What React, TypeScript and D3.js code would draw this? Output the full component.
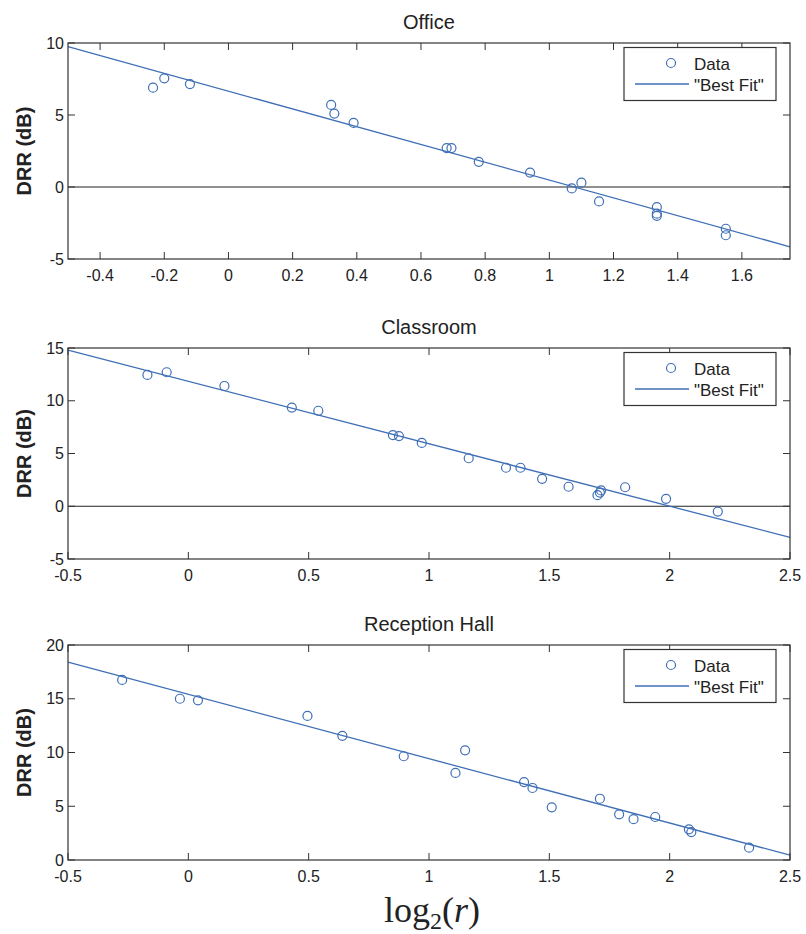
import React from 'react';
import * as d3 from 'd3';

// Office
const officeX = [-0.235, -0.2, -0.12, 0.32, 0.33, 0.39, 0.68, 0.695, 0.78, 0.94, 1.07, 1.1, 1.155, 1.335, 1.335, 1.335, 1.55, 1.55];
const officeY = [6.9, 7.55, 7.15, 5.7, 5.1, 4.45, 2.7, 2.7, 1.75, 1.0, -0.1, 0.3, -1.0, -1.4, -1.85, -2.0, -2.9, -3.35];
const officeFitX = [-0.5, 1.75];
const officeFitY = [9.74, -4.15];
const officeXTicks = [-0.4, -0.2, 0, 0.2, 0.4, 0.6, 0.8, 1, 1.2, 1.4, 1.6];
const officeXTickLabels = ['-0.4', '-0.2', '0', '0.2', '0.4', '0.6', '0.8', '1', '1.2', '1.4', '1.6'];
const officeYTicks = [-5, 0, 5, 10];
const officeYTickLabels = ['-5', '0', '5', '10'];

// Classroom
const classX = [-0.17, -0.09, 0.15, 0.43, 0.54, 0.85, 0.875, 0.97, 1.165, 1.32, 1.38, 1.47, 1.58, 1.7, 1.71, 1.715, 1.815, 1.985, 2.2];
const classY = [12.45, 12.7, 11.4, 9.35, 9.05, 6.75, 6.65, 6.0, 4.55, 3.65, 3.65, 2.6, 1.85, 1.05, 1.3, 1.5, 1.8, 0.7, -0.5];
const classFitX = [-0.5, 2.5];
const classFitY = [14.8, -2.95];
const classYTicks = [-5, 0, 5, 10, 15];
const classYTickLabels = ['-5', '0', '5', '10', '15'];

// Reception Hall
const hallX = [-0.275, -0.035, 0.04, 0.495, 0.64, 0.895, 1.11, 1.15, 1.395, 1.43, 1.51, 1.71, 1.79, 1.85, 1.94, 2.08, 2.09, 2.33];
const hallY = [16.75, 15.0, 14.85, 13.4, 11.55, 9.65, 8.1, 10.2, 7.25, 6.7, 4.9, 5.7, 4.25, 3.8, 4.0, 2.85, 2.6, 1.15];
const hallFitX = [-0.5, 2.5];
const hallFitY = [18.4, 0.45];
const hallYTicks = [0, 5, 10, 15, 20];
const hallYTickLabels = ['0', '5', '10', '15', '20'];

// shared x ticks for classroom + hall
const wideXTicks = [-0.5, 0, 0.5, 1, 1.5, 2, 2.5];
const wideXTickLabels = ['-0.5', '0', '0.5', '1', '1.5', '2', '2.5'];

const legendLabels = ['Data', '"Best Fit"'];

const BLUE = '#3f6fb5';
const FRAME = '#333';
const SANS = '"Liberation Sans", Arial, sans-serif';
const LEFT = 68;
const RIGHT = 790;

interface PanelProps {
  title: string;
  top: number;
  bottom: number;
  xDomain: [number, number];
  yDomain: [number, number];
  xTicks: number[];
  xTickLabels: string[];
  yTicks: number[];
  yTickLabels: string[];
  xs: number[];
  ys: number[];
  fitX: number[];
  fitY: number[];
}

const Panel: React.FC<PanelProps> = ({ title, top, bottom, xDomain, yDomain, xTicks, xTickLabels, yTicks, yTickLabels, xs, ys, fitX, fitY }) => {
  const x = d3.scaleLinear().domain(xDomain).range([LEFT, RIGHT]);
  const y = d3.scaleLinear().domain(yDomain).range([bottom, top]);
  const tick = 7;

  const fitLine = d3.line<number>()
    .x((d, i) => x(fitX[i]))
    .y(d => y(d))(fitY) ?? '';

  const legW = 152, legH = 53;
  const legX = RIGHT - 14 - legW;
  const legY = top + 4.5;
  const showZero = yDomain[0] < 0 && yDomain[1] > 0;

  return (
    <g>
      <text x={(LEFT + RIGHT) / 2} y={top - 14} textAnchor="middle" fontSize={20} fontFamily={SANS} fill="#222">{title}</text>

      {showZero && (
        <line x1={LEFT} x2={RIGHT} y1={y(0)} y2={y(0)} stroke="#222" strokeWidth={1.1} />
      )}

      {/* ticks, inward on all four sides */}
      {xTicks.map((t, i) => (
        <g key={'xt' + i}>
          <line x1={x(t)} x2={x(t)} y1={bottom} y2={bottom - tick} stroke={FRAME} />
          <line x1={x(t)} x2={x(t)} y1={top} y2={top + tick} stroke={FRAME} />
          <text x={x(t)} y={bottom + 22} textAnchor="middle" fontSize={16} fontFamily={SANS} fill="#222">{xTickLabels[i]}</text>
        </g>
      ))}
      {yTicks.map((t, i) => (
        <g key={'yt' + i}>
          <line x1={LEFT} x2={LEFT + tick} y1={y(t)} y2={y(t)} stroke={FRAME} />
          <line x1={RIGHT} x2={RIGHT - tick} y1={y(t)} y2={y(t)} stroke={FRAME} />
          <text x={LEFT - 4} y={y(t)} dy="0.35em" textAnchor="end" fontSize={16} fontFamily={SANS} fill="#222">{yTickLabels[i]}</text>
        </g>
      ))}

      <path d={fitLine} fill="none" stroke={BLUE} strokeWidth={1.3} />

      {xs.map((v, i) => (
        <circle key={'p' + i} cx={x(v)} cy={y(ys[i])} r={4.5} fill="none" stroke={BLUE} strokeWidth={1.2} />
      ))}

      <rect x={LEFT} y={top} width={RIGHT - LEFT} height={bottom - top} fill="none" stroke={FRAME} strokeWidth={1.2} />

      <text transform={`translate(31,${(top + bottom) / 2}) rotate(-90)`} textAnchor="middle" fontSize={20} fontWeight="bold" fontFamily={SANS} fill="#222">DRR (dB)</text>

      {/* legend */}
      <rect x={legX} y={legY} width={legW} height={legH} fill="#fff" stroke={FRAME} strokeWidth={1.2} />
      <circle cx={legX + 47} cy={legY + 15.5} r={4.5} fill="none" stroke={BLUE} strokeWidth={1.2} />
      <text x={legX + 70} y={legY + 22} fontSize={17} fontFamily={SANS} fill="#222">{legendLabels[0]}</text>
      <line x1={legX + 11} x2={legX + 65} y1={legY + 36.5} y2={legY + 36.5} stroke={BLUE} strokeWidth={1.3} />
      <text x={legX + 70} y={legY + 43} fontSize={17} fontFamily={SANS} fill="#222">{legendLabels[1]}</text>
    </g>
  );
};

const App: React.FC = () => {
  return (
    <svg width={806} height={934} style={{ position: 'absolute', left: 0, top: 0, background: '#fff' }}>
      <Panel title="Office" top={43} bottom={259} xDomain={[-0.5, 1.75]} yDomain={[-5, 10]}
        xTicks={officeXTicks} xTickLabels={officeXTickLabels} yTicks={officeYTicks} yTickLabels={officeYTickLabels}
        xs={officeX} ys={officeY} fitX={officeFitX} fitY={officeFitY} />
      <Panel title="Classroom" top={348} bottom={559} xDomain={[-0.5, 2.5]} yDomain={[-5, 15]}
        xTicks={wideXTicks} xTickLabels={wideXTickLabels} yTicks={classYTicks} yTickLabels={classYTickLabels}
        xs={classX} ys={classY} fitX={classFitX} fitY={classFitY} />
      <Panel title="Reception Hall" top={645} bottom={860} xDomain={[-0.5, 2.5]} yDomain={[0, 20]}
        xTicks={wideXTicks} xTickLabels={wideXTickLabels} yTicks={hallYTicks} yTickLabels={hallYTickLabels}
        xs={hallX} ys={hallY} fitX={hallFitX} fitY={hallFitY} />
      <text x={432} y={922} textAnchor="middle" fontSize={36} fontFamily='"Liberation Serif", "Times New Roman", serif' fill="#222">
        log<tspan fontSize={24} dy={7}>2</tspan><tspan dy={-7}>(</tspan><tspan fontStyle="italic">r</tspan>)
      </text>
    </svg>
  );
};

export default App;
